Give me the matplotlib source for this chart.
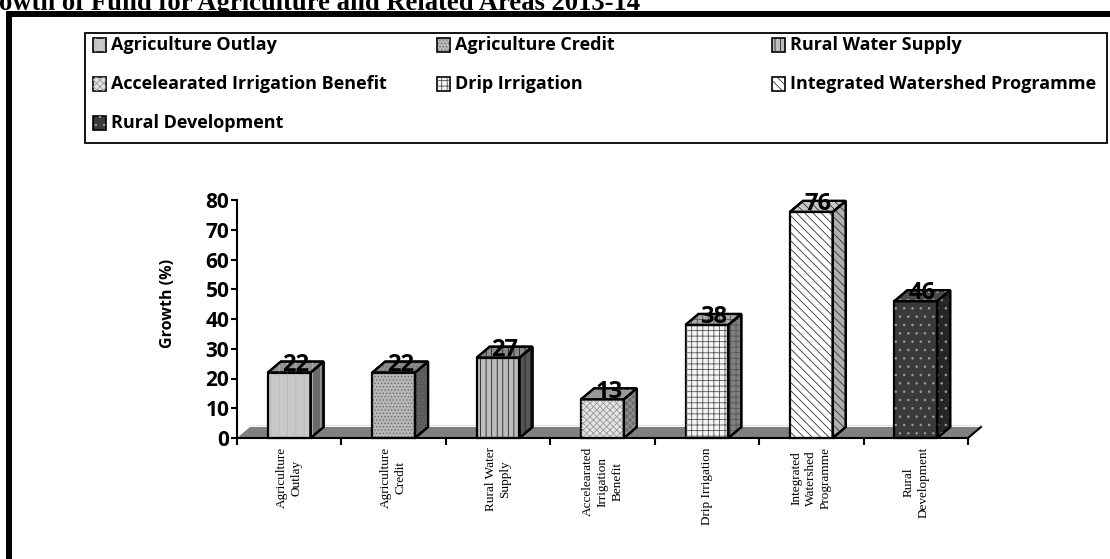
import matplotlib.pyplot as plt
from matplotlib.patches import Polygon, Rectangle

categories = ["Agriculture Outlay", "Agriculture Credit", "Rural Water Supply",
              "Accelearated Irrigation Benefit", "Drip Irrigation",
              "Integrated Watershed Programme", "Rural Development"]
tick_labels = ["Agriculture\nOutlay", "Agriculture\nCredit", "Rural Water\nSupply",
               "Accelearated\nIrrigation\nBenefit", "Drip Irrigation",
               "Integrated\nWatershed\nProgramme", "Rural\nDevelopment"]
growth = [22, 22, 27, 13, 38, 76, 46]

# styles per bar: front, side, top colours, hatch, hatch colour
front_col = ['#c8c8c8', '#b8b8b8', '#bdbdbd', '#e4e4e4', '#f4f4f4', '#ffffff', '#3a3a3a']
side_col = ['#6a6a6a', '#5a5a5a', '#555555', '#707070', '#808080', '#b0b0b0', '#262626']
top_col = ['#909090', '#8c8c8c', '#8a8a8a', '#9a9a9a', '#a8a8a8', '#c8c8c8', '#4a4a4a']
hatches = ['||', '.....', '|||', 'xxxxx', '+++', '\\\\\\\\', '..']
hatch_col = ['#b8b8b8', '#6a6a6a', '#222222', '#999999', '#555555', '#333333', '#9a9a9a']

plt.rcParams['hatch.linewidth'] = 0.6

W, H = 1110, 559
fig = plt.figure(figsize=(W / 100, H / 100), dpi=100)


def fx(x):
    return x / W


def fy(y):
    return 1 - y / H


sans = 'Open Sans'

# outer frame and title (clipped by the picture edge as in the source)
fig.add_artist(Rectangle((fx(9), -0.2), 1.2, fy(14) + 0.2, transform=fig.transFigure,
                         fill=False, lw=4.3, ec='black'))
fig.text(fx(640), fy(10), "Growth of Fund for Agriculture and Related Areas 2013-14",
         ha='right', va='baseline', family='Liberation Serif', weight='bold', size=19.2)

# legend
fig.add_artist(Rectangle((fx(85), fy(143)), fx(1107) - fx(85), fy(33) - fy(143),
                         transform=fig.transFigure, fill=False, lw=1.3, ec='black'))
col_x = [93, 437, 772]
row_y = [45, 84, 123]
for i, name in enumerate(categories):
    cx = col_x[i % 3]
    cy = row_y[i // 3]
    sq = Rectangle((fx(cx), fy(cy + 6.5)), 13 / W, 13 / H, transform=fig.transFigure,
                   fc=front_col[i], ec='black', lw=1.2)
    fig.add_artist(sq)
    hq = Rectangle((fx(cx), fy(cy + 6.5)), 13 / W, 13 / H, transform=fig.transFigure,
                   fc='none', ec=hatch_col[i], lw=0, hatch=hatches[i])
    fig.add_artist(hq)
    fig.text(fx(cx + 18), fy(cy), name, ha='left', va='center', family=sans,
             weight='bold', size=13)

ax = fig.add_axes([fx(237), fy(438), (968 - 237) / W, (438 - 200) / H])
ax.set_xlim(-0.5, 6.5)
ax.set_ylim(0, 80)

dx = 13 / (731 / 7)
dy = 11 / (238 / 80)
w = 0.41
x = list(range(len(growth)))

# floor
ax.add_patch(Polygon([(-0.5, 0), (6.5, 0), (6.5 + dx, dy), (-0.5 + dx, dy)],
                     closed=True, fc='#808080', ec='none', zorder=1, clip_on=False))
ax.plot([-0.5 + dx, 6.5 + dx], [dy + 0.6, dy + 0.6], color='#e6e6e6', lw=1,
        zorder=1, clip_on=False)
ax.plot([6.5, 6.5 + dx], [0, dy], color='black', lw=1.5, zorder=2, clip_on=False)

bars = ax.bar(x, growth, w, color=front_col, edgecolor='black', lw=1.6, zorder=3,
              clip_on=False)
over = ax.bar(x, growth, w, color='none', edgecolor=hatch_col, lw=0, zorder=3.5,
              clip_on=False)
for b, h in zip(over, hatches):
    b.set_hatch(h)

for i, (xi, v) in enumerate(zip(x, growth)):
    r = xi + w / 2
    l = xi - w / 2
    side = [(r, 0), (r + dx, dy), (r + dx, v + dy), (r, v)]
    top = [(l, v), (r, v), (r + dx, v + dy), (l + dx, v + dy)]
    for pts, c in ((side, side_col[i]), (top, top_col[i])):
        ax.add_patch(Polygon(pts, closed=True, fc=c, ec='black', lw=1.6, zorder=3,
                             clip_on=False))
        ax.add_patch(Polygon(pts, closed=True, fc='none', ec=hatch_col[i], lw=0,
                             hatch=hatches[i], zorder=3.5, clip_on=False))
        ax.add_patch(Polygon(pts, closed=True, fc='none', ec='black', lw=1.6,
                             zorder=3.6, clip_on=False))
    ax.text(xi + dx / 2, v + 0.6, str(v), ha='center', va='baseline', family=sans,
            weight='bold', size=17, zorder=5, clip_on=False)

for s in ('top', 'right'):
    ax.spines[s].set_visible(False)
ax.spines['left'].set_linewidth(1.5)
ax.spines['bottom'].set_linewidth(1.5)
ax.spines['bottom'].set_zorder(4)

ax.set_yticks(range(0, 81, 10))
ax.tick_params(axis='y', length=4, width=1.5, pad=1.5)
for t in ax.get_yticklabels():
    t.set_family(sans)
    t.set_weight('bold')
    t.set_size(15)

ax.set_xticks([i - 0.5 for i in range(len(growth) + 1)])
ax.set_xticklabels([])
ax.tick_params(axis='x', which='major', length=5, width=1.5)
ax.set_xticks(x, minor=True)
ax.set_xticklabels(tick_labels, minor=True, rotation=90, family='Liberation Serif',
                   size=9.5, va='top', ha='center', linespacing=1.3)
ax.tick_params(axis='x', which='minor', length=0, pad=6.5)

ax.set_ylabel("Growth (%)", family=sans, weight='bold', size=11.5)
ax.yaxis.set_label_coords(-0.083, 0.567)
ax.patch.set_alpha(0)

fig.savefig('out.png', dpi=100)
